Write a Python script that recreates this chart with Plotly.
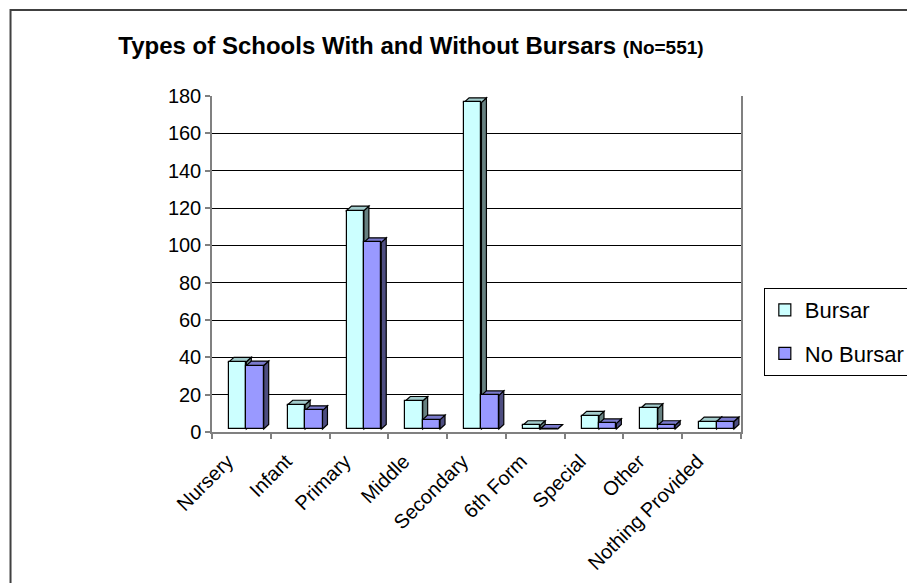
import plotly.graph_objects as go

categories = ["Nursery", "Infant", "Primary", "Middle", "Secondary",
              "6th Form", "Special", "Other", "Nothing Provided"]
bursar = [36, 13, 117, 15, 175, 2, 7, 11, 4]
no_bursar = [34, 10, 100, 5, 18, 0, 3, 2, 4]
y_ticks = [0, 20, 40, 60, 80, 100, 120, 140, 160, 180]

# style / geometry (figure pixel coords; page body adds an 8px offset)
W, H = 915, 583
L, T = 204, 88
pw, ph = 533, 336
R = W - L - pw
B = H - T - ph
YMAX = 180
px_x = 9 / pw          # data units per pixel (x)
px_y = YMAX / ph       # data units per pixel (y)
DX, DY = 5 * px_x, 4.5 * px_y
BASE = 3 * px_y
BW = 17.5 * px_x
OFF = [-12.5 * px_x, -12.5 * px_x + BW]

series = [
    ("Bursar", bursar, "#CCFFFF", "#A3CCCC", "#668080"),
    ("No Bursar", no_bursar, "#9999FF", "#7A7ACC", "#4D4D80"),
]
xs = list(range(len(categories)))

fig = go.Figure()
shapes = []
for si, (name, vals, cf, ct, cs) in enumerate(series):
    fig.add_trace(go.Bar(
        x=xs, y=vals, base=[BASE] * len(vals), name=name,
        width=BW, offset=OFF[si], legendgroup=name,
        marker=dict(color=cf, line=dict(color="black", width=1.2)),
    ))
    for x, v in zip(xs, vals):
        xl = x + OFF[si]
        xr = xl + BW
        b = BASE
        t = BASE + v
        shapes.append(dict(
            type="path", xref="x", yref="y", layer="between",
            path=f"M{xr},{b} L{xr+DX},{b+DY} L{xr+DX},{t+DY} L{xr},{t} Z",
            fillcolor=cs, line=dict(color="black", width=1.2)))
        shapes.append(dict(
            type="path", xref="x", yref="y", layer="between",
            path=f"M{xl},{t} L{xr},{t} L{xr+DX},{t+DY} L{xl+DX},{t+DY} Z",
            fillcolor=ct, line=dict(color="black", width=1.2)))

# outer chart frame
shapes.append(dict(type="rect", xref="paper", yref="paper",
                   x0=(1 - L) / pw, x1=(W + 20 - L) / pw,
                   y0=-1.0, y1=(T + ph - 2) / ph,
                   line=dict(color="#404040", width=2), fillcolor="rgba(0,0,0,0)",
                   layer="above"))

fig.update_layout(
    width=W, height=H,
    margin=dict(l=L, r=R, t=T, b=B),
    paper_bgcolor="white", plot_bgcolor="white",
    barmode="overlay",
    font=dict(family="Liberation Sans, Arial, sans-serif", color="black"),
    title=dict(
        text="<b>Types of Schools With and Without Bursars <span style='font-size:19px'>(No=551)</span></b>",
        x=403 / W, xanchor="center", y=1 - 38 / H, yanchor="middle",
        font=dict(size=24, color="black"),
    ),
    showlegend=True,
    legend=dict(
        x=(760 - L) / pw, y=(T + ph - 280) / ph, xanchor="left", yanchor="top",
        bordercolor="black", borderwidth=1, bgcolor="white",
        font=dict(size=22), tracegroupgap=12, itemwidth=30,
    ),
    shapes=shapes,
    bargap=0,
)
fig.update_xaxes(
    range=[-0.5, 8.5], tickvals=xs, ticktext=categories, tickangle=-45,
    ticks="", showgrid=False, zeroline=False,
    showline=True, linecolor="#808080", linewidth=1.5, mirror=False,
    tickfont=dict(size=20), ticklabelshift=-14, ticklabelstandoff=8,
    minor=dict(tickvals=[i - 0.5 for i in range(len(categories) + 1)],
               ticks="outside", ticklen=5, tickcolor="#808080", tickwidth=1.5,
               showgrid=False),
)
fig.update_yaxes(
    range=[0, YMAX], tickvals=y_ticks, ticks="outside", ticklen=5,
    tickcolor="#808080", tickwidth=1.5,
    showgrid=True, gridcolor="black", gridwidth=1, zeroline=False,
    showline=True, linecolor="#808080", linewidth=1.5, mirror=True,
    tickfont=dict(size=20),
)

fig.write_html("out.html")
